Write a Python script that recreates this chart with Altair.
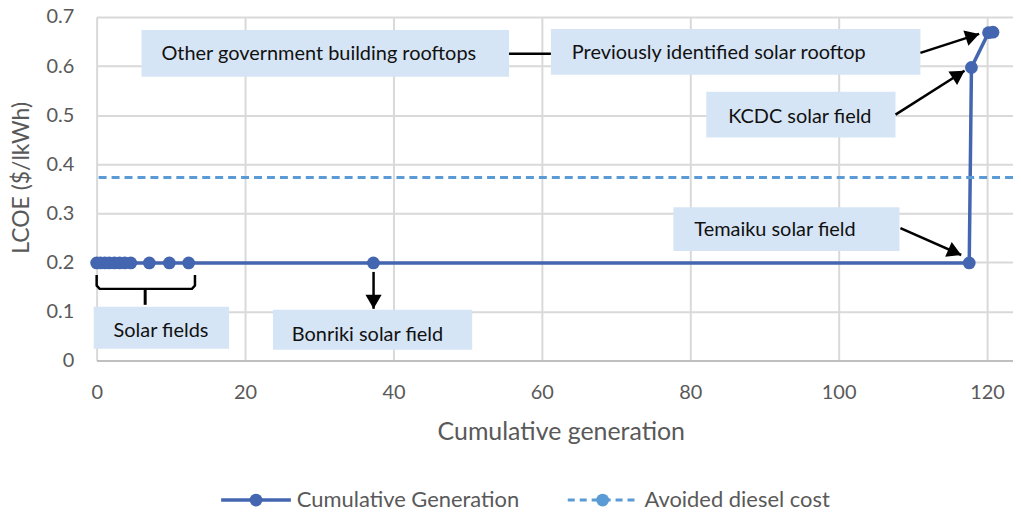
import math
import altair as alt
import pandas as pd

# ---------------- data ----------------
gen_x = [0.0, 0.5, 1.1, 1.7, 2.4, 3.1, 3.8, 4.6, 7.1, 9.8, 12.4, 37.3, 117.6, 117.9, 120.2, 120.8]
gen_y = [0.199, 0.199, 0.199, 0.199, 0.199, 0.199, 0.199, 0.199, 0.199, 0.199, 0.199, 0.199,
         0.199, 0.597, 0.668, 0.669]
avoided_diesel = 0.373

x_ticks = [0, 20, 40, 60, 80, 100, 120]
y_ticks = [0, 0.1, 0.2, 0.3, 0.4, 0.5, 0.6, 0.7]

# annotation boxes (data units)
box_labels = ["Other government building rooftops", "Previously identified solar rooftop",
              "KCDC solar field", "Temaiku solar field", "Solar fields", "Bonriki solar field"]
box_x1 = [6.04, 61.22, 82.16, 77.73, -0.40, 23.76]
box_x2 = [55.58, 111.02, 107.67, 108.20, 17.85, 50.61]
box_y1 = [0.6736, 0.6756, 0.5478, 0.3124, 0.1096, 0.1035]
box_y2 = [0.5782, 0.5823, 0.4545, 0.2232, 0.0243, 0.0223]
text_x = [8.73, 64.04, 85.11, 80.55, 2.28, 26.31]
text_y = [0.6249, 0.6269, 0.4971, 0.2658, 0.0609, 0.0527]

# connectors / arrows (tail -> tip)
arr_x1 = [55.58, 111.02, 107.67, 108.33, 37.32]
arr_y1 = [0.6249, 0.6269, 0.5011, 0.2698, 0.1806]
arr_x2 = [61.22, 118.94, 116.97, 116.52, 37.32]
arr_y2 = [0.6249, 0.6655, 0.5904, 0.2151, 0.1055]
arr_head = [False, True, True, True, True]

# brace under the solar field cluster
brace_x = [0.0, 0.0, 0.4, 12.85, 13.25, 13.25]
brace_y = [0.1745, 0.153, 0.1461, 0.1461, 0.153, 0.1745]
brace_mid_x = 6.54
brace_mid_y1 = 0.1461
brace_mid_y2 = 0.1136

# ---------------- layout ----------------
W, H = 920, 345
XMAX, YMAX = 123.5, 0.7
BLUE = "#4466B0"
LBLUE = "#5B9BD5"
GRID = "#D9D9D9"
GRAY = "#595959"
BOXFILL = "#D6E5F5"
FONT = "Lato"

xs = alt.Scale(domain=[0, XMAX], nice=False, zero=False)
ys = alt.Scale(domain=[0, YMAX], nice=False)

series = pd.DataFrame({"x": gen_x, "y": gen_y, "o": list(range(len(gen_x)))})

xaxis = alt.Axis(values=x_ticks, title="Cumulative generation", labelFont=FONT, labelFontSize=20,
                 labelColor=GRAY, ticks=False, tickSize=0, labelPadding=32, labelBaseline="middle",
                 domainColor="#BFBFBF", domainWidth=2, gridColor=GRID, gridWidth=2,
                 titleFont=FONT, titleFontSize=25, titleColor=GRAY, titleFontWeight="normal",
                 titleX=466, titleAlign="center", titleY=71, titleBaseline="middle", labelFlush=False)
yaxis = alt.Axis(values=y_ticks, title="LCOE ($/lkWh)", labelFont=FONT, labelFontSize=20,
                 labelColor=GRAY, ticks=False, tickSize=0, labelPadding=23, domain=False,
                 gridColor=GRID, gridWidth=2, format="~g",
                 titleFont=FONT, titleFontSize=23, titleColor=GRAY, titleFontWeight="normal",
                 titleX=-75, titleY=161, titleBaseline="middle", titleAngle=270)

line = alt.Chart(series).mark_line(color=BLUE, strokeWidth=3.5).encode(
    x=alt.X("x:Q", scale=xs, axis=xaxis),
    y=alt.Y("y:Q", scale=ys, axis=yaxis),
    order="o:Q",
)
pts = alt.Chart(series).mark_circle(color=BLUE, size=165, opacity=1).encode(
    x=alt.X("x:Q", scale=xs), y=alt.Y("y:Q", scale=ys)
)

diesel = alt.Chart(pd.DataFrame({"y": [avoided_diesel]})).mark_rule(
    color=LBLUE, strokeWidth=3, strokeDash=[8, 5]
).encode(y=alt.Y("y:Q", scale=ys))

boxes = pd.DataFrame({"x1": box_x1, "x2": box_x2, "y1": box_y1, "y2": box_y2,
                      "tx": text_x, "ty": text_y, "label": box_labels})
rects = alt.Chart(boxes).mark_rect(color=BOXFILL, opacity=1).encode(
    x=alt.X("x1:Q", scale=xs), x2="x2:Q", y=alt.Y("y1:Q", scale=ys), y2="y2:Q"
)
texts = alt.Chart(boxes).mark_text(align="left", baseline="middle", font=FONT, fontSize=20,
                                   color="#111111").encode(
    x=alt.X("tx:Q", scale=xs), y=alt.Y("ty:Q", scale=ys), text="label:N"
)

# arrows
px_per_x = W / XMAX
px_per_y = H / YMAX
angles = []
for a, b, c, d in zip(arr_x1, arr_y1, arr_x2, arr_y2):
    dx = (c - a) * px_per_x
    dy_screen = -(d - b) * px_per_y
    angles.append(math.degrees(math.atan2(dx, -dy_screen)) % 360)
arrows = pd.DataFrame({"x1": arr_x1, "y1": arr_y1, "x2": arr_x2, "y2": arr_y2,
                       "ang": angles, "head": arr_head})
arr_lines = alt.Chart(arrows).mark_rule(color="black", strokeWidth=2.5).encode(
    x=alt.X("x1:Q", scale=xs), x2="x2:Q", y=alt.Y("y1:Q", scale=ys), y2="y2:Q"
)
heads = alt.Chart(arrows).transform_filter("datum.head").mark_point(
    shape="M0,0L-0.58,1L0.58,1Z", filled=True, color="black", opacity=1, size=784, strokeWidth=0
).encode(x=alt.X("x2:Q", scale=xs), y=alt.Y("y2:Q", scale=ys), angle=alt.Angle("ang:Q", scale=None))

brace = alt.Chart(pd.DataFrame({"x": brace_x, "y": brace_y, "o": list(range(len(brace_x)))})).mark_line(
    color="black", strokeWidth=2.5
).encode(x=alt.X("x:Q", scale=xs), y=alt.Y("y:Q", scale=ys), order="o:Q")
brace_mid = alt.Chart(pd.DataFrame({"x": [brace_mid_x], "y1": [brace_mid_y1], "y2": [brace_mid_y2]})).mark_rule(
    color="black", strokeWidth=3
).encode(x=alt.X("x:Q", scale=xs), y=alt.Y("y1:Q", scale=ys), y2="y2:Q")

# legend (drawn below the plot)
LEG_Y = 485
one = pd.DataFrame({"k": [0]})
leg1_line = alt.Chart(one).mark_rule(color=BLUE, strokeWidth=3.5).encode(
    x=alt.value(125), x2=alt.value(195), y=alt.value(LEG_Y))
leg1_pt = alt.Chart(one).mark_circle(color=BLUE, size=165, opacity=1).encode(
    x=alt.value(160), y=alt.value(LEG_Y))
leg1_txt = alt.Chart(one).mark_text(text="Cumulative Generation", align="left", baseline="middle",
                                    font=FONT, fontSize=22, color=GRAY).encode(
    x=alt.value(201), y=alt.value(LEG_Y))
leg2_line = alt.Chart(one).mark_rule(color=LBLUE, strokeWidth=3, strokeDash=[7, 5]).encode(
    x=alt.value(473), x2=alt.value(545), y=alt.value(LEG_Y))
leg2_pt = alt.Chart(one).mark_circle(color=LBLUE, size=165, opacity=1).encode(
    x=alt.value(508), y=alt.value(LEG_Y))
leg2_txt = alt.Chart(one).mark_text(text="Avoided diesel cost", align="left", baseline="middle",
                                    font=FONT, fontSize=22, color=GRAY).encode(
    x=alt.value(550), y=alt.value(LEG_Y))

chart = alt.layer(
    line, pts, diesel, rects, arr_lines, heads, brace, brace_mid, texts,
    leg1_line, leg1_pt, leg1_txt, leg2_line, leg2_pt, leg2_txt
).properties(
    width=W, height=H,
    autosize=alt.AutoSizeParams(type="none"),
    padding={"left": 89, "top": 8, "right": 0, "bottom": 147},
).configure_view(stroke=None).configure(background="white")

chart.save("out.html", embed_options={"renderer": "svg", "actions": False})
